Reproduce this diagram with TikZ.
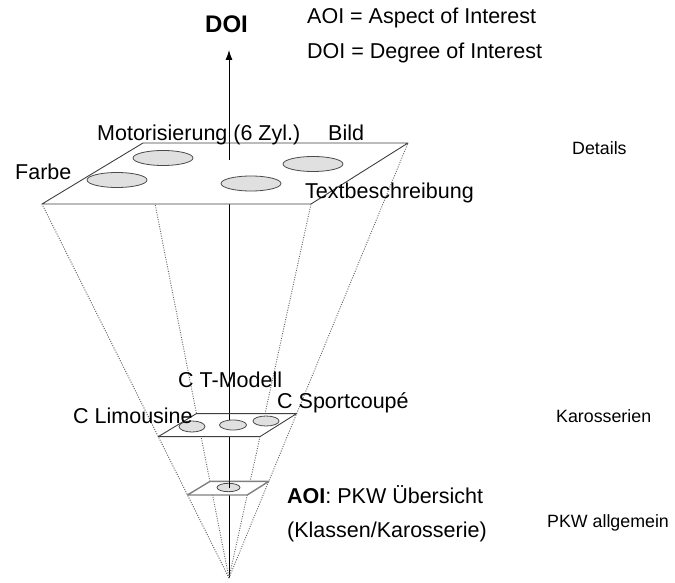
\documentclass[tikz,border=0pt]{standalone}
\usepackage{fontspec}
\setmainfont{Liberation Sans}
\usetikzlibrary{arrows.meta,calc}

\begin{document}
\begin{tikzpicture}[x=1pt,y=-1pt,
  lbl/.style={anchor=base west, inner sep=0pt, font=\fontsize{21.5}{26}\selectfont},
  side/.style={anchor=base west, inner sep=0pt, font=\fontsize{17.8}{21}\selectfont},
  plane/.style={fill=white, draw=black!75, line width=0.9pt, line join=round},
  lowplane/.style={fill=white, draw=black!50, line width=1.4pt, line join=round},
  ray/.style={draw=black!60, dash pattern=on 1pt off 1.4pt, line width=0.9pt},
  spot/.style={fill=black!12, draw=black!70, line width=0.8pt},
  axis/.style={line width=0.9pt}]

\useasboundingbox (0,0) rectangle (675,583);

% apex of the interest pyramid and tip of the DOI axis
\coordinate (apex) at (229,578);
\coordinate (tip) at (229,50);

% corners of the detail plane
\coordinate (t1) at (143,143);
\coordinate (t2) at (408,143);
\coordinate (t3) at (311,204);
\coordinate (t4) at (42,204);

% corners of the body-style plane and of the overview plane
\foreach \i in {1,...,4} {
  \coordinate (m\i) at ($(apex)!0.378!(t\i)$);
  \coordinate (b\i) at ($(apex)!0.222!(t\i)$);
}

% DOI axis
\draw[axis, -{Latex[length=10pt,width=7pt]}] (apex) -- (tip);

% rays from the apex to the corners
\foreach \i in {1,...,4} \draw[ray] (apex) -- (t\i);

% detail plane
\draw[plane] (t1) -- (t2) -- (t3) -- (t4) -- cycle;
\coordinate (tx) at (229,160);
\draw[axis] (229,143) -- (tx);
\draw[spot] (163,158) ellipse [x radius=30pt, y radius=7.5pt];
\draw[spot] (117,180) ellipse [x radius=30pt, y radius=7.5pt];
\draw[spot] (313,164) ellipse [x radius=30pt, y radius=7.5pt];
\draw[spot] (251,183.5) ellipse [x radius=30pt, y radius=7.5pt];

% body-style plane
\draw[plane] (m1) -- (m2) -- (m3) -- (m4) -- cycle;
\draw[axis] ($(m1)!(apex)!(m2)$) -- (229,421);
\draw[spot] (192,426.5) ellipse [x radius=13pt, y radius=5.5pt];
\draw[spot] (233,425) ellipse [x radius=13.5pt, y radius=5pt];
\draw[spot] (266,421) ellipse [x radius=13pt, y radius=5pt];

% overview plane
\draw[lowplane] (b1) -- (b2) -- (b3) -- (b4) -- cycle;
\draw[spot] (228.5,487.5) ellipse [x radius=11.5pt, y radius=4.2pt];
\draw[axis] ($(b1)!(apex)!(b2)$) -- (229,487.5);

% headings
\node[lbl, font=\fontsize{24}{28}\selectfont\bfseries] (doi) at (205,33) {DOI};
\node[lbl] (leg1) at (307,24) {AOI = Aspect of Interest};
\node[lbl] (leg2) at (307,59) {DOI = Degree of Interest};

% labels of the detail plane
\node[lbl] (motor) at (97,141) {Motorisierung (6 Zyl.)};
\node[lbl] (bild) at (328,141) {Bild};
\node[lbl] (farbe) at (15,180) {Farbe};
\node[lbl] (text) at (305,198) {Textbeschreibung};

% labels of the body-style plane
\node[lbl] (tmod) at (178,387) {C T-Modell};
\node[lbl] (limo) at (73,423) {C Limousine};
\node[lbl] (sport) at (277,408) {C Sportcoupé};

% labels of the overview plane
\node[lbl] (aoi) at (287,503) {\textbf{AOI}: PKW Übersicht};
\node[lbl] (klass) at (287,537) {(Klassen/Karosserie)};

% level names
\node[side] (lvl1) at (572,155) {Details};
\node[side] (lvl2) at (556,422) {Karosserien};
\node[side] (lvl3) at (547,527) {PKW allgemein};

\end{tikzpicture}
\end{document}
